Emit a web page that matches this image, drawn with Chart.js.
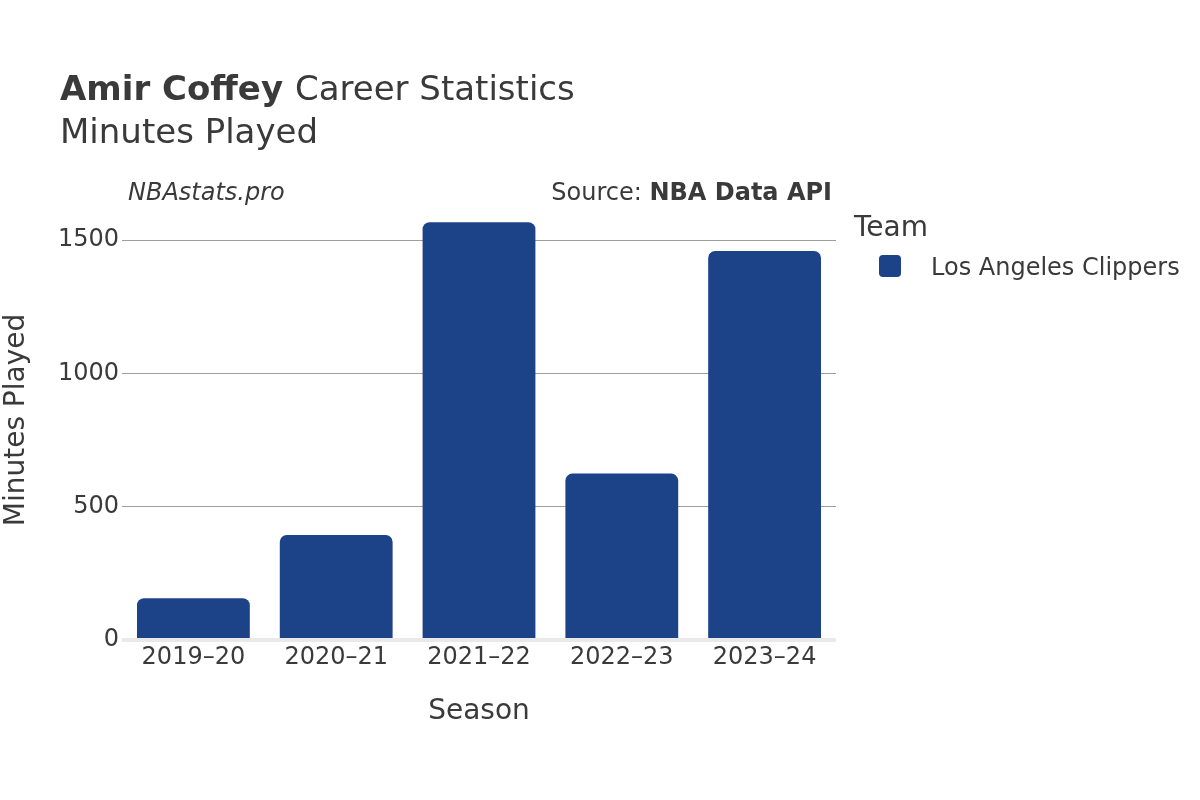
<!DOCTYPE html>
<html lang="en">
<head>
  <meta charset="UTF-8" />
  <title>Amir Coffey Career Statistics</title>
  <script src="https://cdn.jsdelivr.net/npm/chart.js"></script>
  <style>
    html, body { margin: 0; padding: 0; background: #fff; }
    #wrap { width: 1200px; height: 800px; }
  </style>
</head>
<body>
  <div id="wrap"><canvas id="minutesChart" width="1200" height="800"></canvas></div>

  <script>
    const seasons = ['2019–20', '2020–21', '2021–22', '2022–23', '2023–24'];
    const minutes = [157, 394, 1567, 624, 1459];
    const teamName = 'Los Angeles Clippers';
    const yTicks = [0, 500, 1000, 1500];

    const FONT = '"DejaVu Sans", Verdana, sans-serif';
    const TEXT = '#3a3a3a';
    const BAR = '#1c4288';

    // titles, source line and the legend are drawn by hand
    const decorations = {
      id: 'decorations',
      afterDraw(chart) {
        const c = chart.ctx;
        c.save();
        c.fillStyle = TEXT;
        c.textBaseline = 'middle';

        c.font = 'bold 34px ' + FONT;
        c.fillText('Amir Coffey', 60, 91);
        const w = c.measureText('Amir Coffey ').width;
        c.font = '34px ' + FONT;
        c.fillText('Career Statistics', 60 + w, 91);
        c.fillText('Minutes Played', 60, 134);

        c.font = 'italic 24px ' + FONT;
        c.fillText('NBAstats.pro', 128, 194);

        c.textAlign = 'right';
        c.font = 'bold 24px ' + FONT;
        c.fillText('NBA Data API', 832, 194);
        const bw = c.measureText('NBA Data API').width;
        c.font = '24px ' + FONT;
        c.fillText('Source: ', 832 - bw, 194);

        c.textAlign = 'left';
        c.font = '28px ' + FONT;
        c.fillText('Team', 854, 229);

        chart.data.datasets.forEach((ds, i) => {
          const y = 266 + i * 30;
          c.fillStyle = ds.backgroundColor;
          c.beginPath();
          c.roundRect(879, y - 11, 22, 22, 4);
          c.fill();
          c.fillStyle = TEXT;
          c.font = '24px ' + FONT;
          c.fillText(ds.label, 931, y + 3);
        });
        c.restore();
      }
    };

    new Chart(document.getElementById('minutesChart'), {
      type: 'bar',
      data: {
        labels: seasons,
        datasets: [{
          label: teamName,
          data: minutes,
          backgroundColor: BAR,
          borderRadius: 7,
          barPercentage: 0.79,
          categoryPercentage: 1
        }]
      },
      options: {
        responsive: false,
        animation: false,
        layout: { padding: { top: 200, right: 364, left: 0, bottom: 0 } },
        plugins: { legend: { display: false }, tooltip: { enabled: false } },
        scales: {
          x: {
            grid: { display: false, drawTicks: false },
            border: { display: false },
            ticks: { color: TEXT, font: { family: FONT, size: 24 }, padding: 3 },
            title: { display: true, text: 'Season', color: TEXT,
                     font: { family: FONT, size: 28 }, padding: { top: 0, bottom: 71 } },
            afterFit(scale) { scale.height = 160; }
          },
          y: {
            min: 0,
            max: 1650,
            afterBuildTicks(scale) { scale.ticks = yTicks.map(v => ({ value: v })); },
            grid: {
              drawTicks: false,
              color: ctx => ctx.tick && ctx.tick.value === 0 ? '#e9e9e9' : '#9e9e9e',
              lineWidth: ctx => ctx.tick && ctx.tick.value === 0 ? 4 : 1
            },
            border: { display: false },
            ticks: { color: TEXT, font: { family: FONT, size: 24 }, padding: 3,
                     callback: v => String(v) },
            title: { display: true, text: 'Minutes Played', color: TEXT,
                     font: { family: FONT, size: 28 }, padding: { top: 0, bottom: 0 } },
            afterFit(scale) { scale.width = 122; }
          }
        }
      },
      plugins: [decorations]
    });
  </script>
</body>
</html>
